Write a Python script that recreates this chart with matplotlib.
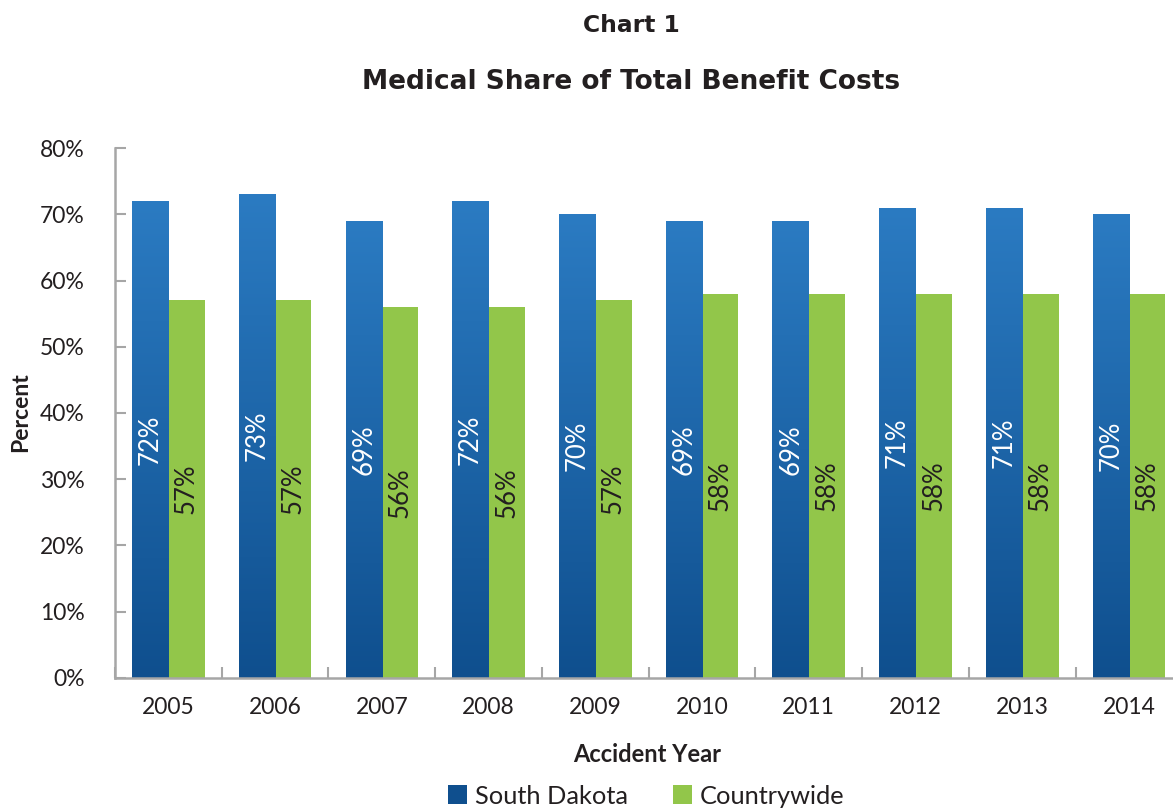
import matplotlib
matplotlib.use('Agg')
import matplotlib.pyplot as plt
import numpy as np
from matplotlib.colors import LinearSegmentedColormap
from matplotlib.patches import Patch

years = ['2005', '2006', '2007', '2008', '2009', '2010', '2011', '2012', '2013', '2014']
south_dakota = [72, 73, 69, 72, 70, 69, 69, 71, 71, 70]
countrywide = [57, 57, 56, 56, 57, 58, 58, 58, 58, 58]

blue_top = '#2b7bc2'
blue_bot = '#0f4f8e'
green = '#92c64a'
txt = '#231f20'
axis_gray = '#a6a6a6'

fnt = 'Lato'
plt.rcParams['font.family'] = [fnt, 'DejaVu Sans']

fig = plt.figure(figsize=(11.73, 8.09), dpi=100)
ax = fig.add_axes([0.098, 0.162, 0.91, 0.655])

x = np.arange(len(years))
w = 0.34
grad = LinearSegmentedColormap.from_list('g', [blue_bot, blue_top])
gimg = np.linspace(0, 1, 256).reshape(-1, 1)

bars_sd = ax.bar(x - w / 2, south_dakota, w, color=blue_top, zorder=2)
bars_cw = ax.bar(x + w / 2, countrywide, w, color=green, zorder=2)

# gradient fill on the blue bars
for b in bars_sd:
    x0 = b.get_x()
    h = b.get_height()
    im = ax.imshow(gimg, cmap=grad, aspect='auto', origin='lower',
                   extent=[x0, x0 + b.get_width(), 0, h], zorder=2.5)
    im.set_clip_path(b)

for b, v in zip(bars_sd, south_dakota):
    ax.text(b.get_x() + b.get_width() / 2, v / 2, f'{v}%', rotation=90,
            ha='center', va='center', color='white', fontsize=18.5, zorder=3)
for b, v in zip(bars_cw, countrywide):
    ax.text(b.get_x() + b.get_width() / 2, v / 2, f'{v}%', rotation=90,
            ha='center', va='center', color=txt, fontsize=18.5, zorder=3)

ax.set_xlim(-0.5, len(years) - 0.5)
ax.set_ylim(0, 80)
ax.set_yticks(np.arange(0, 81, 10))
ax.set_yticklabels([f'{t}%' for t in range(0, 81, 10)])
ax.set_xticks(x)
ax.set_xticklabels(years)
ax.set_xticks(np.arange(-0.5, len(years), 1), minor=True)
ax.tick_params(axis='x', which='major', length=0, pad=14, labelsize=16.5, labelcolor=txt)
ax.tick_params(axis='x', which='minor', direction='in', length=8, color=axis_gray, width=1.5)
ax.tick_params(axis='y', direction='in', length=8, color=axis_gray, width=1.5,
               pad=22, labelsize=16.5, labelcolor=txt)

for s in ['top', 'right']:
    ax.spines[s].set_visible(False)
for s in ['left', 'bottom']:
    ax.spines[s].set_color(axis_gray)
    ax.spines[s].set_linewidth(1.8)

fig.text(0.538, 0.969, 'Chart 1', ha='center', va='center', fontsize=16.8,
         fontweight='bold', family='DejaVu Sans', color=txt)
fig.text(0.538, 0.899, 'Medical Share of Total Benefit Costs', ha='center', va='center',
         fontsize=19, fontweight='bold', family='DejaVu Sans', color=txt)
fig.text(0.018, 0.49, 'Percent', rotation=90, ha='center', va='center',
         fontsize=16.5, fontweight='bold', color=txt)
fig.text(0.552, 0.067, 'Accident Year', ha='center', va='center',
         fontsize=17, fontweight='bold', color=txt)

handles = [Patch(facecolor=blue_bot, label='South Dakota'),
           Patch(facecolor=green, label='Countrywide')]
fig.legend(handles=handles, loc='center', bbox_to_anchor=(0.551, 0.016), ncol=2,
           frameon=False, fontsize=18.3, handlelength=0.75, handleheight=0.75,
           handletextpad=0.3, columnspacing=1.8, labelcolor=txt)

fig.savefig('out.png', dpi=100)
